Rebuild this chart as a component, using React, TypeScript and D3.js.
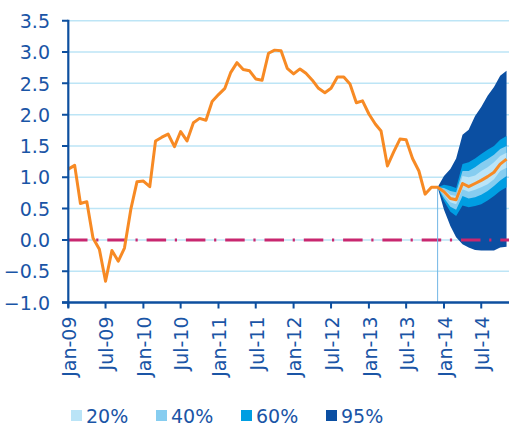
import * as d3 from 'd3';

// Monthly history, Jan-09 .. Dec-13
const historyStart = new Date(2009, 0, 1);
const historyValues = [
  1.13, 1.19, 0.58, 0.61, 0.03, -0.15, -0.66, -0.17, -0.34, -0.13, 0.49, 0.93,
  0.94, 0.85, 1.58, 1.64, 1.69, 1.49, 1.73, 1.58, 1.87, 1.94, 1.91, 2.21,
  2.32, 2.42, 2.67, 2.83, 2.72, 2.70, 2.57, 2.55, 2.98, 3.03, 3.02, 2.74,
  2.65, 2.73, 2.66, 2.55, 2.42, 2.35, 2.42, 2.60, 2.60, 2.49, 2.19, 2.22,
  2.01, 1.85, 1.74, 1.18, 1.40, 1.61, 1.60, 1.30, 1.10, 0.73, 0.84, 0.84,
];

// Forecast, Dec-13 .. Nov-14
const forecastStart = new Date(2013, 11, 1);
const centralValues = [0.84, 0.77, 0.66, 0.64, 0.90, 0.85, 0.90, 0.95, 1.01, 1.08, 1.21, 1.29];
const upper95 = [0.84, 1.02, 1.13, 1.30, 1.68, 1.76, 1.98, 2.12, 2.30, 2.44, 2.62, 2.70];
const lower95 = [0.84, 0.48, 0.22, 0.04, -0.07, -0.12, -0.16, -0.17, -0.17, -0.17, -0.12, -0.11];
const upper60 = [0.84, 0.88, 0.86, 0.83, 1.21, 1.24, 1.30, 1.37, 1.44, 1.50, 1.60, 1.66];
const lower60 = [0.84, 0.62, 0.45, 0.38, 0.55, 0.52, 0.54, 0.57, 0.63, 0.70, 0.78, 0.84];
const upper40 = [0.84, 0.83, 0.78, 0.76, 1.10, 1.10, 1.16, 1.23, 1.29, 1.36, 1.45, 1.50];
const lower40 = [0.84, 0.67, 0.53, 0.48, 0.70, 0.66, 0.68, 0.72, 0.78, 0.86, 0.95, 1.02];
const upper20 = [0.84, 0.80, 0.72, 0.70, 1.02, 1.00, 1.03, 1.10, 1.16, 1.24, 1.34, 1.39];
const lower20 = [0.84, 0.72, 0.60, 0.57, 0.81, 0.77, 0.80, 0.84, 0.89, 0.97, 1.10, 1.15];

const yTicks = [-1.0, -0.5, 0.0, 0.5, 1.0, 1.5, 2.0, 2.5, 3.0, 3.5];
const bandLabels = ['20%', '40%', '60%', '95%'];
const bandColors = ['#bae4f7', '#86cdf0', '#009ee2', '#0b4fa2'];

const TEXT = '#1a55a6';
const AXIS = '#0d4f9f';
const WIDTH = 509;
const HEIGHT = 427;
const FONT = '"DejaVu Sans", sans-serif';

type Pt = { date: Date; v: number };

export default function App() {
  const x = d3.scaleTime()
    .domain([new Date(2009, 0, 1), new Date(2014, 0, 1)])
    .range([68.3, 444]);
  const y = d3.scaleLinear().domain([-1, 3.5]).range([302.5, 20.7]);

  const history: Pt[] = historyValues.map((v, i) => ({ date: d3.timeMonth.offset(historyStart, i), v }));
  const fanDates = centralValues.map((_c, i) => d3.timeMonth.offset(forecastStart, i));
  const bands = [
    [lower20, upper20],
    [lower40, upper40],
    [lower60, upper60],
    [lower95, upper95],
  ];

  const area = (lo: number[], hi: number[]) =>
    d3.area<number>()
      .x(i => x(fanDates[i]))
      .y0(i => y(lo[i]))
      .y1(i => y(hi[i]))(d3.range(fanDates.length)) ?? '';

  const line = d3.line<Pt>().x(d => x(d.date)).y(d => y(d.v));
  const series = history.concat(fanDates.slice(1).map((date, i) => ({ date, v: centralValues[i + 1] })));

  const xTicks = d3.timeMonth.every(6)!.range(new Date(2009, 0, 1), new Date(2014, 7, 1));
  const fx = x(forecastStart);
  const fmtX = d3.timeFormat('%b-%y');
  const fmtY = d3.format('.1f');
  const y0 = y(-1);

  // gridlines, axes and ticks as single paths
  const gridPath = yTicks.filter(t => t > -1).map(t => `M68,${y(t)}H${WIDTH}`).join('');
  const yTickPath = yTicks.map(t => `M62,${y(t)}H68`).join('');
  const xTickPath = xTicks.map(d => `M${x(d)},${y0}V${y0 + 6}`).join('');

  return (
    <svg width={WIDTH} height={HEIGHT} style={{ position: 'absolute', left: 0, top: 0 }}>
      <path d={gridPath} fill="none" stroke="#bde5f6" strokeWidth={1.5} />

      {[3, 2, 1, 0].map(b => (
        <path key={`f${b}`} d={area(bands[b][0], bands[b][1])} fill={bandColors[b]} />
      ))}

      <line
        x1={68} x2={WIDTH} y1={y(0)} y2={y(0)}
        stroke="#c8276f" strokeWidth={3} strokeDasharray="19.5 8.7 2.2 8.9"
      />

      <line x1={fx} x2={fx} y1={y(centralValues[0])} y2={y0} stroke="#72b6e6" strokeWidth={1} />

      <path d={line(series) ?? ''} fill="none" stroke="#f78a24" strokeWidth={3} strokeLinejoin="round" />

      {/* axes */}
      <path d={`M68.3,${y(3.5) - 1}V${y0 + 5}`} fill="none" stroke={AXIS} strokeWidth={2.2} />
      <path d={`M62,${y0}H${WIDTH}`} fill="none" stroke={AXIS} strokeWidth={2.5} />
      <path d={yTickPath} fill="none" stroke={AXIS} strokeWidth={2} />
      <path d={xTickPath} fill="none" stroke={AXIS} strokeWidth={2} />

      {yTicks.map(t => (
        <text key={`yl${t}`} x={50} y={y(t)} dy="0.38em" textAnchor="end" fill={TEXT} fontSize={19} fontFamily={FONT}>
          {fmtY(t)}
        </text>
      ))}
      {xTicks.map(d => (
        <text
          key={`xl${d.getTime()}`}
          transform={`translate(${x(d) + 1},316.5) rotate(-90)`}
          dy="0.36em"
          textAnchor="end"
          fill={TEXT}
          fontSize={19}
          fontFamily={FONT}
        >
          {fmtX(d)}
        </text>
      ))}

      {bandLabels.map((label, i) => (
        <g key={label} transform={`translate(${71 + i * 85},0)`}>
          <rect x={0} y={410} width={11} height={11} fill={bandColors[i]} />
          <text x={15} y={416} dy="0.36em" fill={TEXT} fontSize={19} fontFamily={FONT}>
            {label}
          </text>
        </g>
      ))}
    </svg>
  );
}
